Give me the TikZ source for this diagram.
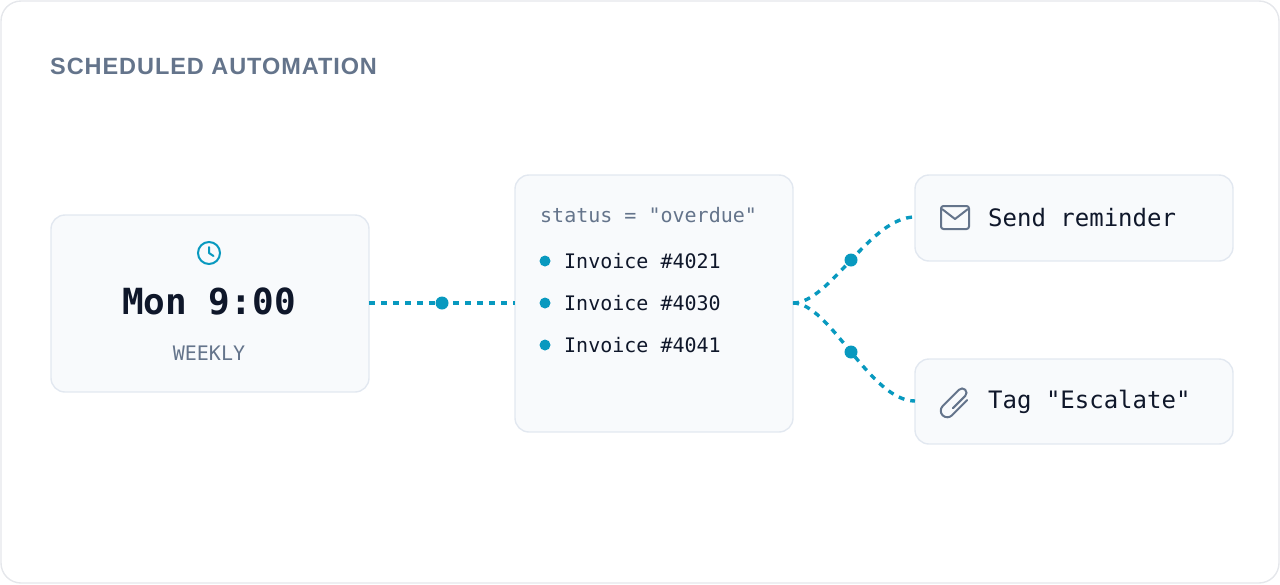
\documentclass[tikz,border=0pt]{standalone}
\usepackage{fontspec}
\setmainfont{Liberation Sans}
\setmonofont{DejaVu Sans Mono}
\definecolor{frame}{HTML}{E5E7EB}
\definecolor{cardline}{HTML}{E2E8F0}
\definecolor{cardfill}{HTML}{F8FAFC}
\definecolor{slate}{HTML}{64748B}
\definecolor{ink}{HTML}{0F172A}
\definecolor{teal}{HTML}{0899BF}
\tikzset{
	card/.style={draw=cardline, fill=cardfill, line width=1.4pt, rounded corners=14pt},
	link/.style={draw=teal, line width=3.4pt, dash pattern=on 6pt off 6pt},
	knob/.style={circle, fill=teal, inner sep=0pt, minimum size=13pt},
	mono/.style={font=\ttfamily\fontsize{20}{22}\selectfont, text=ink, anchor=west, inner sep=0pt},
}
\begin{document}
\begin{tikzpicture}[x=1pt, y=-1pt]
		\useasboundingbox (0,0) rectangle (1280,584);
		\draw[draw=frame, line width=1.4pt, rounded corners=20pt] (1,1) rectangle (1279,583);
		\node[anchor=west, text=slate, inner sep=0pt, font=\bfseries\fontsize{23.5}{26}\selectfont\addfontfeature{LetterSpace=4}] (title) at (50,66) {SCHEDULED AUTOMATION};
		% trigger card
		\draw[card] (51,215) rectangle (369,392);
		\coordinate (trigR) at (369,303);
		\draw[teal, line width=2pt] (209,253) circle (11pt);
		\draw[teal, line width=2pt, line cap=round, line join=round] (209,247) -- (209,253) -- (213.5,256);
		\node[text=ink, inner sep=0pt, font=\ttfamily\bfseries\fontsize{36}{40}\selectfont] (time) at (209,301) {Mon 9:00};
		\node[text=slate, inner sep=0pt, font=\ttfamily\fontsize{20}{22}\selectfont] (weekly) at (209,353) {WEEKLY};
		% filter card
		\draw[card] (515,175) rectangle (793,432);
		\coordinate (filtL) at (515,303);
		\coordinate (filtR) at (793,303);
		\node[mono, text=slate] (rule) at (540,215) {status = "overdue"};
		\foreach \y/\n in {261/4021, 303/4030, 345/4041} {
			\node[knob, minimum size=11pt] at (545,\y) {};
			\node[mono] (inv\n) at (564,\y) {Invoice \#\n};
		}
		% action cards
		\draw[card] (915,175) rectangle (1233,261);
		\coordinate (mailL) at (915,217);
		\draw[slate, line width=2pt, rounded corners=2.5pt] (941,206) rectangle (969,229);
		\draw[slate, line width=2pt, line join=round] (942,209) -- (955,219) -- (968,209);
		\node[mono, font=\ttfamily\fontsize{24}{26}\selectfont] (send) at (988,218) {Send reminder};
		\draw[card] (915,359) rectangle (1233,444);
		\coordinate (tagL) at (915,401);
		\begin{scope}[shift={(956,401)}, x=1.45pt, y=1.45pt, rotate=-45]
			\draw[slate, line width=2pt, line cap=round]
				(2,-5) -- (2,7) arc[start angle=0, end angle=180, radius=3] -- (-4,-9) arc[start angle=180, end angle=360, radius=4.5] -- (5,6);
		\end{scope}
		\node[mono, font=\ttfamily\fontsize{24}{26}\selectfont] (tag) at (988,402) {Tag "Escalate"};
		% connectors
		\draw[link] (trigR) -- node[knob] {} (filtL);
		\draw[link] (filtR) .. controls (830,303) and (870,217) .. node[knob] {} (mailL);
		\draw[link] (filtR) .. controls (830,303) and (870,401) .. node[knob] {} (tagL);
	\end{tikzpicture}
\end{document}
